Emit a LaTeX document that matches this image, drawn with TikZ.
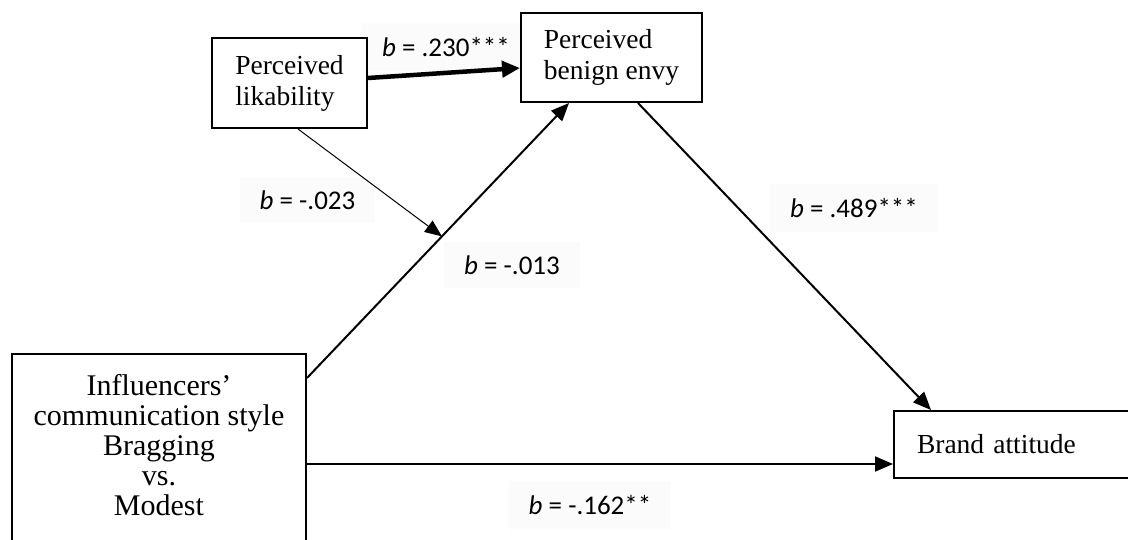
\documentclass[tikz,border=0pt]{standalone}
\usepackage{fontspec}
\setmainfont{Liberation Serif}
\newfontfamily\labfont{Carlito}
\usetikzlibrary{arrows.meta,calc}
\begin{document}
\begin{tikzpicture}[x=1pt,y=-1pt,
  box/.style={draw=black, line width=2pt, fill=white, inner sep=0pt, font=\fontsize{27.5}{31}\selectfont},
  conn/.style={line width=2pt, -{Triangle[length=18pt,width=15pt]}},
  thinconn/.style={line width=1pt, -{Triangle[length=17pt,width=14pt]}},
  thickconn/.style={line width=4.5pt, -{Triangle[length=18pt,width=16pt]}},
  lab/.style={font=\labfont\fontsize{27}{32}\selectfont, fill=black!1.5, inner xsep=20pt, inner ysep=14pt}]
\useasboundingbox (0,0) rectangle (1128,540);
\clip (0,0) rectangle (1128,540);
\fill[white] (0,0) rectangle (1128,540);

% labels (drawn first, lines go over their faint backgrounds)
\node[lab] (l1) at (446,47) {\textit{b} = .230***};
\node[lab] (l2) at (307.5,200) {\textit{b} = -.023};
\node[lab] (l3) at (512,265) {\textit{b} = -.013};
\node[lab] (l4) at (854,208) {\textit{b} = .489***};
\node[lab] (l5) at (590,505) {\textit{b} = -.162**};

% boxes
\node[box, minimum width=155pt, minimum height=90pt, align=left] (lik) at (289.5,83) {Perceived\\likability};
\node[box, minimum width=181pt, minimum height=89pt, align=left] (envy) at (611.5,57.5) {Perceived\\benign envy};
\node[box, text width=210pt, inner xsep=23pt, minimum height=67pt, align=left] (brand) at (1022,444.5) {Brand attitude};
\node[box, anchor=north, minimum width=294pt, inner ysep=20pt, align=center, font=\fontsize{30}{30}\selectfont] (infl) at (159,353)
  {Influencers’\\communication style\\Bragging\\vs.\\Modest\\[80pt]\mbox{}};

% connectors
\draw[conn] ($(infl.north east)+(0,25)$) -- coordinate[pos=0.515] (mod) ($(envy.south west)+(49,0)$);
\draw[thinconn] ($(lik.south)+(8.5,0)$) -- (mod);
\draw[thickconn] ($(lik.east)+(0,-5)$) -- ($(envy.west)+(0,10.5)$);
\draw[conn] ($(envy.south)+(26.5,0)$) -- ($(brand.north west)+(38,0)$);
\coordinate (h) at ($(infl.north east)+(0,111)$);
\draw[conn] (h) -- (h -| brand.west);
\end{tikzpicture}
\end{document}
